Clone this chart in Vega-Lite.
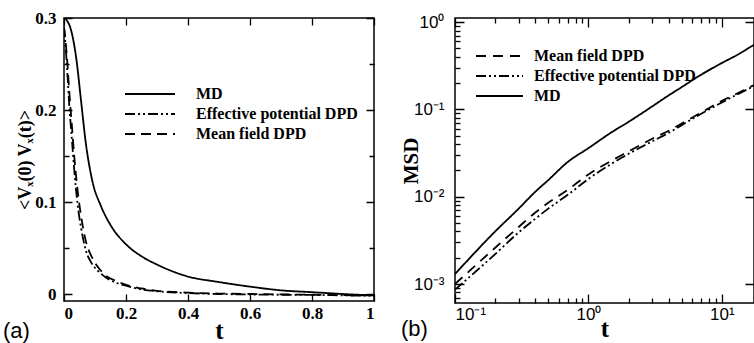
{
  "$schema": "https://vega.github.io/schema/vega-lite/v6.json",
  "padding": {"left": 2, "top": 8, "right": 0, "bottom": 0},
  "spacing": 81,
  "bounds": "flush",
  "config": {
    "view": {"stroke": "black", "strokeWidth": 1.5, "fill": "transparent"},
    "axis": {"zindex": 1, "domain": false, "ticks": false, "grid": true, "gridColor": "black", "gridOpacity": 1, "gridWidth": 1.3, "labelColor": "black", "titleColor": "black"},
    "legend": {"padding": 0, "symbolStrokeColor": "black", "symbolStrokeWidth": 1.8, "symbolSize": 4, "labelFont": "Liberation Serif", "labelFontWeight": "bold", "labelFontSize": 16, "labelColor": "black", "labelLimit": 400, "title": null}
  },
  "resolve": {"scale": {"strokeDash": "independent"}, "legend": {"strokeDash": "independent"}},
  "datasets": {
    "vacf": [
      {"t": 0, "v": 0.300, "s": "MD"}, {"t": 0.01, "v": 0.297, "s": "MD"}, {"t": 0.02, "v": 0.29, "s": "MD"}, {"t": 0.03, "v": 0.276, "s": "MD"}, {"t": 0.04, "v": 0.255, "s": "MD"}, {"t": 0.055, "v": 0.21, "s": "MD"}, {"t": 0.07, "v": 0.165, "s": "MD"}, {"t": 0.09, "v": 0.125, "s": "MD"}, {"t": 0.12, "v": 0.095, "s": "MD"}, {"t": 0.15, "v": 0.075, "s": "MD"}, {"t": 0.2, "v": 0.054, "s": "MD"}, {"t": 0.25, "v": 0.041, "s": "MD"}, {"t": 0.3, "v": 0.032, "s": "MD"}, {"t": 0.4, "v": 0.019, "s": "MD"}, {"t": 0.5, "v": 0.013, "s": "MD"}, {"t": 0.6, "v": 0.008, "s": "MD"}, {"t": 0.7, "v": 0.004, "s": "MD"}, {"t": 0.8, "v": 0.002, "s": "MD"}, {"t": 0.9, "v": 0.0, "s": "MD"}, {"t": 1.0, "v": -0.0015, "s": "MD"},
      {"t": 0, "v": 0.29, "s": "Effective potential DPD"}, {"t": 0.005, "v": 0.27, "s": "Effective potential DPD"}, {"t": 0.01, "v": 0.245, "s": "Effective potential DPD"}, {"t": 0.017, "v": 0.205, "s": "Effective potential DPD"}, {"t": 0.025, "v": 0.17, "s": "Effective potential DPD"}, {"t": 0.033, "v": 0.135, "s": "Effective potential DPD"}, {"t": 0.044, "v": 0.097, "s": "Effective potential DPD"}, {"t": 0.055, "v": 0.072, "s": "Effective potential DPD"}, {"t": 0.07, "v": 0.048, "s": "Effective potential DPD"}, {"t": 0.09, "v": 0.033, "s": "Effective potential DPD"}, {"t": 0.11, "v": 0.025, "s": "Effective potential DPD"}, {"t": 0.135, "v": 0.018, "s": "Effective potential DPD"}, {"t": 0.17, "v": 0.012, "s": "Effective potential DPD"}, {"t": 0.2, "v": 0.009, "s": "Effective potential DPD"}, {"t": 0.25, "v": 0.005, "s": "Effective potential DPD"}, {"t": 0.3, "v": 0.003, "s": "Effective potential DPD"}, {"t": 0.4, "v": 0.001, "s": "Effective potential DPD"}, {"t": 0.5, "v": 0.0, "s": "Effective potential DPD"}, {"t": 0.6, "v": -0.0005, "s": "Effective potential DPD"}, {"t": 0.7, "v": -0.0008, "s": "Effective potential DPD"}, {"t": 0.8, "v": -0.001, "s": "Effective potential DPD"}, {"t": 0.9, "v": -0.0015, "s": "Effective potential DPD"}, {"t": 1.0, "v": -0.002, "s": "Effective potential DPD"},
      {"t": 0, "v": 0.29, "s": "Mean field DPD"}, {"t": 0.005, "v": 0.275, "s": "Mean field DPD"}, {"t": 0.01, "v": 0.255, "s": "Mean field DPD"}, {"t": 0.017, "v": 0.22, "s": "Mean field DPD"}, {"t": 0.025, "v": 0.185, "s": "Mean field DPD"}, {"t": 0.033, "v": 0.15, "s": "Mean field DPD"}, {"t": 0.044, "v": 0.112, "s": "Mean field DPD"}, {"t": 0.055, "v": 0.085, "s": "Mean field DPD"}, {"t": 0.07, "v": 0.058, "s": "Mean field DPD"}, {"t": 0.09, "v": 0.04, "s": "Mean field DPD"}, {"t": 0.11, "v": 0.029, "s": "Mean field DPD"}, {"t": 0.135, "v": 0.02, "s": "Mean field DPD"}, {"t": 0.17, "v": 0.014, "s": "Mean field DPD"}, {"t": 0.2, "v": 0.01, "s": "Mean field DPD"}, {"t": 0.25, "v": 0.006, "s": "Mean field DPD"}, {"t": 0.3, "v": 0.0035, "s": "Mean field DPD"}, {"t": 0.4, "v": 0.0015, "s": "Mean field DPD"}, {"t": 0.5, "v": 0.0005, "s": "Mean field DPD"}, {"t": 0.6, "v": 0.0, "s": "Mean field DPD"}, {"t": 0.7, "v": -0.0004, "s": "Mean field DPD"}, {"t": 0.8, "v": -0.0008, "s": "Mean field DPD"}, {"t": 0.9, "v": -0.0012, "s": "Mean field DPD"}, {"t": 1.0, "v": -0.0016, "s": "Mean field DPD"}
    ],
    "msd": [
      {"t": 0.1, "m": 0.0013, "s": "MD"}, {"t": 0.2, "m": 0.004, "s": "MD"}, {"t": 0.3, "m": 0.0073, "s": "MD"}, {"t": 0.4, "m": 0.0114, "s": "MD"}, {"t": 0.5, "m": 0.0155, "s": "MD"}, {"t": 0.7, "m": 0.025, "s": "MD"}, {"t": 1, "m": 0.036, "s": "MD"}, {"t": 1.5, "m": 0.055, "s": "MD"}, {"t": 2, "m": 0.072, "s": "MD"}, {"t": 3, "m": 0.108, "s": "MD"}, {"t": 4, "m": 0.145, "s": "MD"}, {"t": 5, "m": 0.18, "s": "MD"}, {"t": 7, "m": 0.25, "s": "MD"}, {"t": 10, "m": 0.34, "s": "MD"}, {"t": 13, "m": 0.42, "s": "MD"}, {"t": 17.4, "m": 0.55, "s": "MD"},
      {"t": 0.1, "m": 0.001, "s": "Mean field DPD"}, {"t": 0.2, "m": 0.0026, "s": "Mean field DPD"}, {"t": 0.3, "m": 0.0045, "s": "Mean field DPD"}, {"t": 0.4, "m": 0.0066, "s": "Mean field DPD"}, {"t": 0.5, "m": 0.0085, "s": "Mean field DPD"}, {"t": 0.7, "m": 0.012, "s": "Mean field DPD"}, {"t": 1, "m": 0.018, "s": "Mean field DPD"}, {"t": 1.5, "m": 0.026, "s": "Mean field DPD"}, {"t": 2, "m": 0.033, "s": "Mean field DPD"}, {"t": 3, "m": 0.046, "s": "Mean field DPD"}, {"t": 4, "m": 0.057, "s": "Mean field DPD"}, {"t": 5, "m": 0.069, "s": "Mean field DPD"}, {"t": 7, "m": 0.092, "s": "Mean field DPD"}, {"t": 10, "m": 0.125, "s": "Mean field DPD"}, {"t": 13, "m": 0.152, "s": "Mean field DPD"}, {"t": 17.4, "m": 0.19, "s": "Mean field DPD"},
      {"t": 0.1, "m": 0.00086, "s": "Effective potential DPD"}, {"t": 0.2, "m": 0.0022, "s": "Effective potential DPD"}, {"t": 0.3, "m": 0.0039, "s": "Effective potential DPD"}, {"t": 0.4, "m": 0.0056, "s": "Effective potential DPD"}, {"t": 0.5, "m": 0.0073, "s": "Effective potential DPD"}, {"t": 0.7, "m": 0.0105, "s": "Effective potential DPD"}, {"t": 1, "m": 0.016, "s": "Effective potential DPD"}, {"t": 1.5, "m": 0.024, "s": "Effective potential DPD"}, {"t": 2, "m": 0.031, "s": "Effective potential DPD"}, {"t": 3, "m": 0.043, "s": "Effective potential DPD"}, {"t": 4, "m": 0.054, "s": "Effective potential DPD"}, {"t": 5, "m": 0.066, "s": "Effective potential DPD"}, {"t": 7, "m": 0.089, "s": "Effective potential DPD"}, {"t": 10, "m": 0.12, "s": "Effective potential DPD"}, {"t": 13, "m": 0.148, "s": "Effective potential DPD"}, {"t": 17.4, "m": 0.185, "s": "Effective potential DPD"}
    ]
  },
  "hconcat": [
    {
      "width": 310,
      "height": 283,
      "title": {"text": "(a)", "orient": "bottom", "anchor": "start", "frame": "group", "font": "Liberation Sans", "fontSize": 22, "fontWeight": "normal", "color": "black", "dx": -61, "offset": -22},
      "data": {"name": "vacf"},
      "mark": {"type": "line", "strokeWidth": 1.8, "color": "black", "clip": true, "interpolate": "monotone"},
      "encoding": {
        "x": {"field": "t", "type": "quantitative", "scale": {"domain": [0, 1], "nice": false},
          "axis": {"zindex": 1, "values": [0, 0.2, 0.4, 0.6, 0.8, 1], "labelExpr": "datum.value == 0 ? '0' : datum.value == 1 ? '1' : format(datum.value, '.1f')", "gridDash": [7, 269, 7, 1000], "labelPadding": 4, "labelFont": "Liberation Serif", "labelFontWeight": "bold", "labelFontSize": 17, "title": "t", "titleFont": "Liberation Serif", "titleFontWeight": "bold", "titleFontSize": 25, "titlePadding": -3}},
        "y": {"field": "v", "type": "quantitative", "scale": {"domain": [-0.0076, 0.3], "nice": false, "zero": false},
          "axis": {"zindex": 1, "values": [0, 0.05, 0.1, 0.15, 0.2, 0.25, 0.3], "labelExpr": "datum.value == 0 ? '0' : (round(datum.value * 100) % 10 == 0 ? format(datum.value, '.1f') : '')", "gridDash": {"condition": {"test": "round(datum.value * 100) % 10 == 0", "value": [8, 294, 8, 1000]}, "value": [5, 300, 5, 1000]}, "labelPadding": 8, "labelFont": "Liberation Serif", "labelFontWeight": "bold", "labelFontSize": 17, "title": "<Vₓ(0) Vₓ(t)>", "titleFont": "Liberation Serif", "titleFontWeight": "bold", "titleFontSize": 18, "titlePadding": 0}},
        "strokeDash": {"field": "s", "type": "nominal",
          "scale": {"domain": ["MD", "Effective potential DPD", "Mean field DPD"], "range": [[1, 0], [10, 3, 2, 3, 2, 3], [10, 6]]},
          "legend": {"orient": "none", "legendX": 78, "legendY": 68, "symbolType": "M-25,0H25", "labelOffset": 38, "rowPadding": 4}}
      }
    },
    {
      "width": 299,
      "height": 285,
      "title": {"text": "(b)", "orient": "bottom", "anchor": "start", "frame": "group", "font": "Liberation Sans", "fontSize": 22, "fontWeight": "normal", "color": "black", "dx": -54, "offset": -22},
      "data": {"name": "msd"},
      "mark": {"type": "line", "strokeWidth": 1.8, "color": "black", "clip": true, "interpolate": "monotone"},
      "encoding": {
        "x": {"field": "t", "type": "quantitative", "scale": {"type": "log", "domain": [0.1, 17.4], "nice": false},
          "axis": {"zindex": 1, "values": [0.1, 0.2, 0.3, 0.4, 0.5, 0.6, 0.7, 0.8, 0.9, 1, 2, 3, 4, 5, 6, 7, 8, 9, 10], "labelExpr": "datum.value == 0.1 ? '10⁻¹' : datum.value == 1 ? '10⁰' : datum.value == 10 ? '10¹' : ''", "gridDash": {"condition": {"test": "datum.value == 0.1 || datum.value == 1 || datum.value == 10", "value": [9, 267, 9, 1000]}, "value": [5, 275, 5, 1000]}, "labelPadding": 3, "labelFont": "Liberation Sans", "labelFontSize": 17, "title": "t", "titleFont": "Liberation Serif", "titleFontWeight": "bold", "titleFontSize": 25, "titlePadding": -6}},
        "y": {"field": "m", "type": "quantitative", "scale": {"type": "log", "domain": [0.000606, 1.113], "nice": false},
          "axis": {"zindex": 1, "values": [0.0007, 0.0008, 0.0009, 0.001, 0.002, 0.003, 0.004, 0.005, 0.006, 0.007, 0.008, 0.009, 0.01, 0.02, 0.03, 0.04, 0.05, 0.06, 0.07, 0.08, 0.09, 0.1, 0.2, 0.3, 0.4, 0.5, 0.6, 0.7, 0.8, 0.9, 1], "labelExpr": "datum.value == 0.001 ? '10⁻³' : datum.value == 0.01 ? '10⁻²' : datum.value == 0.1 ? '10⁻¹' : datum.value == 1 ? '10⁰' : ''", "gridDash": {"condition": {"test": "datum.value == 0.001 || datum.value == 0.01 || datum.value == 0.1 || datum.value == 1", "value": [9, 281, 9, 1000]}, "value": [5, 1000]}, "labelPadding": 11, "labelFont": "Liberation Sans", "labelFontSize": 17, "title": "MSD", "titleFont": "Liberation Serif", "titleFontWeight": "bold", "titleFontSize": 21, "titlePadding": -8}},
        "strokeDash": {"field": "s", "type": "nominal",
          "scale": {"domain": ["Mean field DPD", "Effective potential DPD", "MD"], "range": [[10, 7], [10, 3, 2, 3, 2, 3], [1, 0]]},
          "legend": {"orient": "none", "legendX": 36.5, "legendY": 30, "symbolType": "M-23.5,0H23.5", "labelOffset": 26.5, "rowPadding": 4}}
      }
    }
  ]
}
